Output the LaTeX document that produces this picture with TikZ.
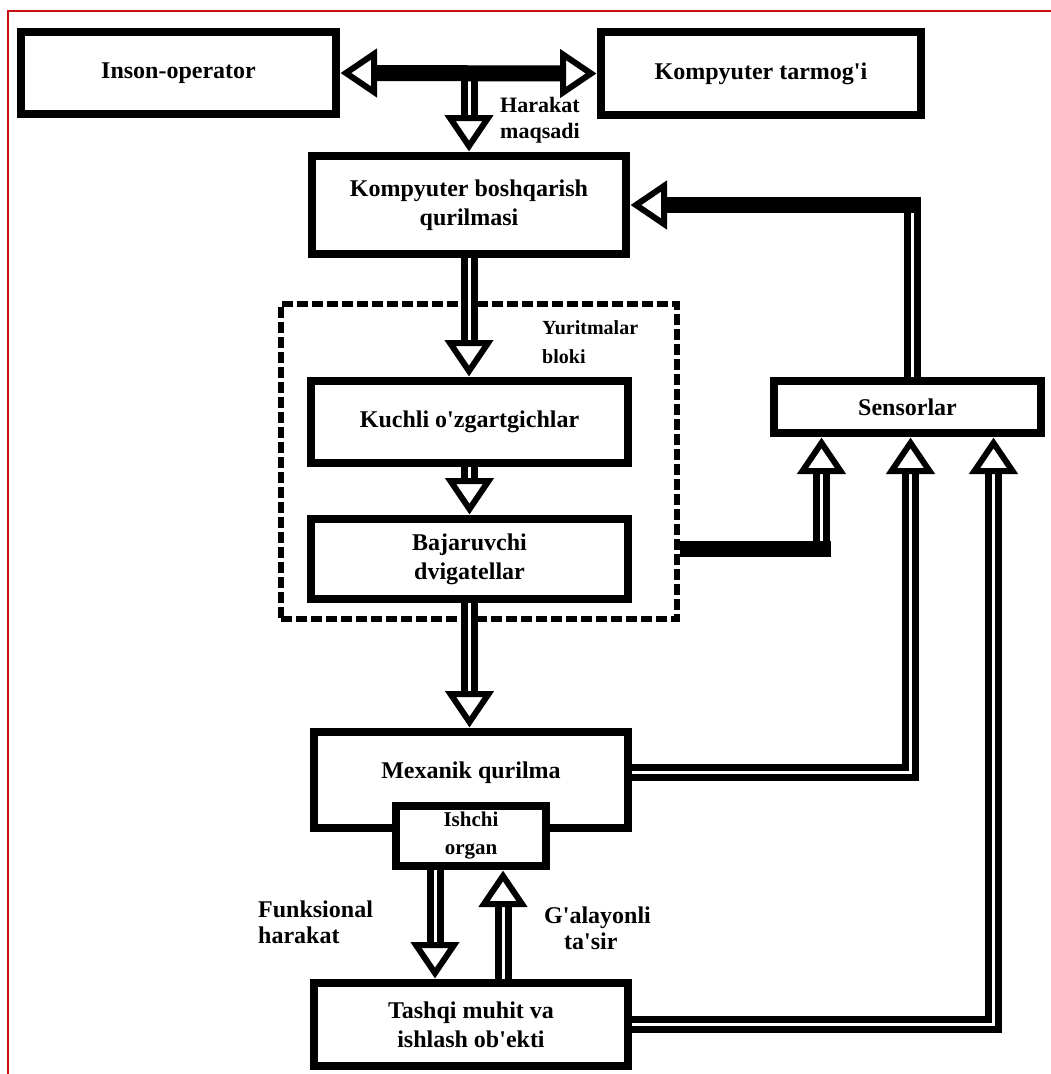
\documentclass[tikz,border=0pt]{standalone}
\usepackage{fontspec}
\setmainfont{Liberation Serif}[Ligatures=TeXOff]
\usetikzlibrary{calc}
\definecolor{frame}{RGB}{200,16,20}
\tikzset{
  box/.style={draw=black, line width=8pt, fill=white, align=center, inner sep=2pt,
    font=\bfseries\fontsize{24}{29}\selectfont},
  dashbox/.style={draw=black, line width=6pt, dash pattern=on 11pt off 4pt, inner sep=0pt},
  dbl/.style={draw=black, line width=7pt, double=white, double distance=3pt, line join=miter},
  solidc/.style={draw=black, line width=16pt},
  lbl/.style={align=left, font=\bfseries\fontsize{22}{26}\selectfont, inner sep=0pt},
  ahead/.pic={\draw[line width=6pt, fill=white, line join=miter]
      (-6,0) -- (-34,19) -- (-34,-19) -- cycle;}
}
\begin{document}
\begin{tikzpicture}[x=1pt,y=-1pt]
\useasboundingbox (0,0) rectangle (1051,1074);
\fill[white] (0,0) rectangle (1051,1074);
% red frame
\draw[frame, line width=2pt] (8,1074) -- (8,11) -- (1051,11);

% dashed block
\node[dashbox, minimum width=396pt, minimum height=315pt] (yb) at (479,461.5) {};

% boxes
\node[box, minimum width=315pt, minimum height=82pt] (inson) at (178.5,73) {Inson-operator};
\node[box, minimum width=320pt, minimum height=83pt] (tarm) at (761,73.5) {Kompyuter tarmog'i};
\node[box, minimum width=314pt, minimum height=98pt] (kbq) at (469,205) {Kompyuter boshqarish\\qurilmasi};
\node[box, minimum width=317pt, minimum height=82pt] (kuchli) at (469.5,422) {Kuchli o'zgartgichlar};
\node[box, minimum width=317pt, minimum height=80pt] (baj) at (469.5,559) {Bajaruvchi\\dvigatellar};
\node[box, minimum width=267pt, minimum height=52pt] (sens) at (907.5,407) {Sensorlar};
\node[box, minimum width=314pt, minimum height=96pt] (mex) at (471,780) {};
\node[font=\bfseries\fontsize{24}{29}\selectfont, inner sep=0pt] (mext) at (471,773) {Mexanik qurilma};
\node[box, minimum width=150pt, minimum height=60pt, font=\bfseries\fontsize{21}{28}\selectfont] (ishchi) at (471,836) {Ishchi\\organ};
\node[box, minimum width=314pt, minimum height=83pt] (tash) at (471,1024.5) {Tashqi muhit va\\ishlash ob'ekti};

% labels
\node[lbl, anchor=west] (harakat) at (500,120) {Harakat\\maqsadi};
\node[lbl, anchor=west, font=\bfseries\fontsize{20}{29}\selectfont] (yurit) at (542,342) {Yuritmalar\\bloki};
\node[lbl, anchor=west, font=\bfseries\fontsize{24}{26}\selectfont] (funk) at (258,922) {Funksional\\harakat};
\node[lbl, anchor=west, font=\bfseries\fontsize{24}{26}\selectfont] (galay) at (544,928) {G'alayonli\\\hspace*{20pt}ta'sir};

% helper coordinates
\coordinate (j) at (kbq.north |- inson.east);
\coordinate (s1) at ($(sens.south)+(-86,0)$);
\coordinate (s2) at ($(sens.south)+(3,0)$);
\coordinate (s3) at ($(sens.south)+(86,0)$);
\coordinate (sn) at ($(sens.north)+(4.5,0)$);
\coordinate (fb) at (sn |- kbq.east);
\coordinate (bj) at ($(baj.center -| yb.east)+(0,-10)$);
\coordinate (bjc) at (s1 |- bj);
\coordinate (m1) at ($(mex.east)+(0,-8)$);
\coordinate (fd1) at ($(ishchi.south)+(-36,0)$);
\coordinate (fu1) at ($(ishchi.south)+(32,0)$);

% top connectors
\draw[dbl, shorten >=25pt] (j) -- (kbq.north);
\draw[solidc, shorten >=25pt, shorten <=25pt] (inson.east) -- (tarm.west);
\pic[rotate=180] at (inson.east) {ahead};
\pic at (tarm.west) {ahead};
\pic[rotate=-90] at (kbq.north) {ahead};

% main chain
\draw[dbl, shorten >=25pt] (kbq.south) -- (kbq.south |- kuchli.north);
\pic[rotate=-90] at (kbq.south |- kuchli.north) {ahead};
\draw[dbl, shorten >=25pt] (kuchli.south) -- (kuchli.south |- baj.north);
\pic[rotate=-90] at (kuchli.south |- baj.north) {ahead};
\draw[dbl, shorten >=25pt] (baj.south) -- (baj.south |- mex.north);
\pic[rotate=-90] at (baj.south |- mex.north) {ahead};

% ishchi <-> tashqi
\draw[dbl, shorten >=25pt] (fd1) -- (fd1 |- tash.north);
\pic[rotate=-90] at (fd1 |- tash.north) {ahead};
\draw[dbl, shorten >=25pt] (fu1 |- tash.north) -- (fu1);
\pic[rotate=90] at (fu1) {ahead};

% to sensors
\draw[dbl, shorten >=25pt] (bjc) -- (s1);
\draw[solidc, shorten >=-9pt] (bj) -- (bjc);
\pic[rotate=90] at (s1) {ahead};
\draw[dbl, shorten >=25pt] (m1) -- (s2 |- m1) -- (s2);
\pic[rotate=90] at (s2) {ahead};
\draw[dbl, shorten >=25pt] (tash.east) -- (s3 |- tash.east) -- (s3);
\pic[rotate=90] at (s3) {ahead};

% feedback to kbq
\draw[dbl, shorten >=-7pt] (sn) -- (fb);
\draw[solidc, shorten <=-9pt, shorten >=25pt] (fb) -- (kbq.east);
\pic[rotate=180] at (kbq.east) {ahead};
\end{tikzpicture}
\end{document}
